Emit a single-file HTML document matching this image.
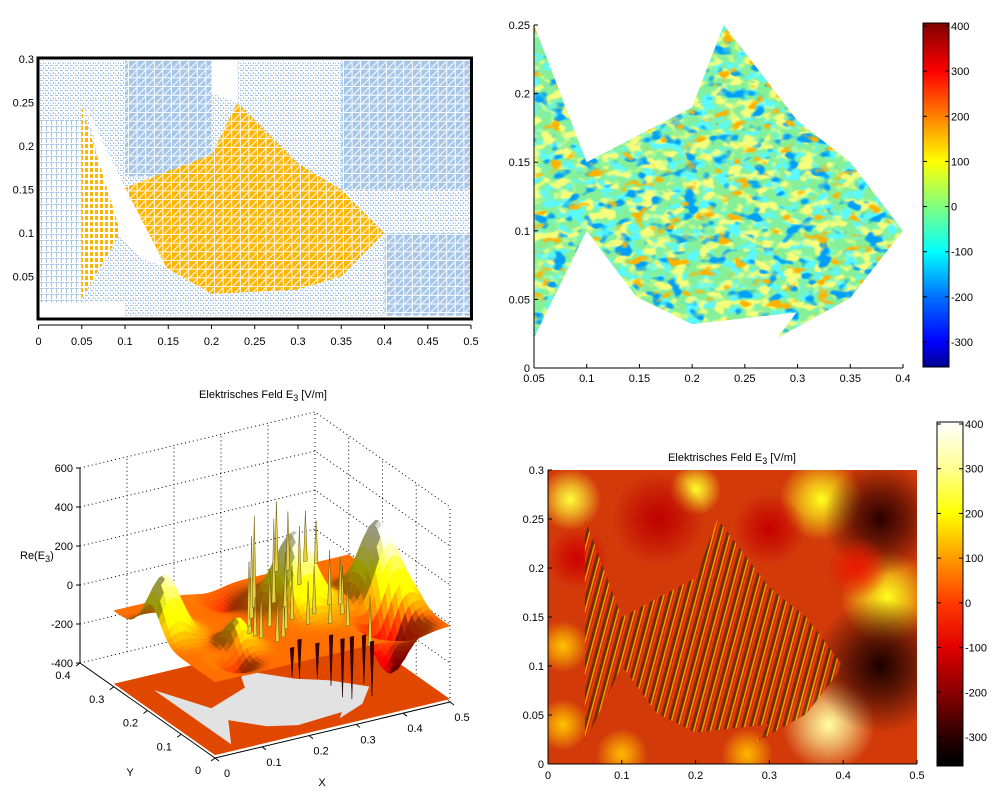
<!DOCTYPE html>
<html><head><meta charset="utf-8"><style>
html,body{margin:0;padding:0;background:#fff;}
svg{display:block;font-family:"Liberation Sans",sans-serif;}
text{font-size:11px;fill:#000;}
</style></head><body>
<svg id="fig" width="1000" height="800" viewBox="0 0 1000 800" xmlns="http://www.w3.org/2000/svg">
<defs>
<pattern id="pDense" width="8.6" height="8.7" patternUnits="userSpaceOnUse">
<rect width="8.6" height="8.7" fill="#a6c6e8"/><path d="M0 8.2H8.6M8.1 0V8.7M1 7.5L7.5 1" stroke="#fff" stroke-width="1"/></pattern>
<pattern id="pSparse" width="5" height="5" patternUnits="userSpaceOnUse">
<rect width="5" height="5" fill="#fff"/><rect x="0" y="0" width="3" height="1" fill="#a6c6e8"/><rect x="3" y="2" width="1" height="2" fill="#a6c6e8"/><rect x="0" y="3" width="1" height="1" fill="#a6c6e8"/></pattern>
<pattern id="pMed" width="5" height="6" patternUnits="userSpaceOnUse">
<rect width="5" height="6" fill="#fff"/><rect x="0" y="0" width="4" height="1" fill="#a6c6e8"/><rect x="1" y="1" width="1" height="4" fill="#a6c6e8"/></pattern>
<pattern id="pOrange" width="8.6" height="8.7" patternUnits="userSpaceOnUse">
<rect width="8.6" height="8.7" fill="#ffb400"/><path d="M0 8.2H8.6M8.1 0V8.7M1 7.5L7.5 1" stroke="#fff" stroke-width="1"/></pattern>
<pattern id="pOrangeS" width="5" height="6" patternUnits="userSpaceOnUse">
<rect width="5" height="6" fill="#fff"/><rect x="0" y="0" width="3" height="4" fill="#ffb400"/></pattern>
<pattern id="pStripes" width="8" height="8" patternUnits="userSpaceOnUse" patternTransform="rotate(15)">
<rect width="8" height="8" fill="#c82800"/><rect x="0" width="2.5" height="8" fill="#4a3000"/><rect x="2.5" width="1.5" height="8" fill="#ffb000"/><rect x="5.5" width="1" height="8" fill="#ff5000"/></pattern>
<filter id="fBlue" x="0" y="0" width="1" height="1"><feTurbulence type="fractalNoise" baseFrequency="0.06 0.09" numOctaves="2" seed="4"/><feColorMatrix type="matrix" values="0 0 0 0 0  0 0 0 0 0.35  0 0 0 0 0.95  7 0 0 0 -4.0"/></filter>
<filter id="fRed" x="0" y="0" width="1" height="1"><feTurbulence type="fractalNoise" baseFrequency="0.06 0.09" numOctaves="2" seed="9"/><feColorMatrix type="matrix" values="0 0 0 0 1  0 0 0 0 0.45  0 0 0 0 0  0 7 0 0 -4.3"/></filter>
<filter id="fYel" x="0" y="0" width="1" height="1"><feTurbulence type="fractalNoise" baseFrequency="0.07 0.1" numOctaves="2" seed="2"/><feColorMatrix type="matrix" values="0 0 0 0 0.9  0 0 0 0 1  0 0 0 0 0.2  0 0 6 0 -2.9"/></filter>
<filter id="fCyan" x="0" y="0" width="1" height="1"><feTurbulence type="fractalNoise" baseFrequency="0.07 0.1" numOctaves="2" seed="6"/><feColorMatrix type="matrix" values="0 0 0 0 0.1  0 0 0 0 0.95  0 0 0 0 1  6 0 0 0 -2.9"/></filter>
</defs>
</svg>
<script>
// ---------- data ----------
const fishX = [0.05,0.1,0.2,0.23,0.3,0.35,0.4,0.35,0.281,0.299,0.2,0.147,0.1,0.05];
const fishY = [0.25,0.15,0.19,0.25,0.18,0.15,0.1,0.051,0.022,0.0405,0.032,0.052,0.1,0.022];
const bodyX = [0.1,0.2,0.23,0.3,0.35,0.4,0.35,0.3,0.2,0.148];
const bodyY = [0.152,0.19,0.25,0.18,0.15,0.1,0.05,0.035,0.03,0.06];
const tailX = [0.05,0.095,0.05];
const tailY = [0.245,0.1,0.025];
const meshTicksX = [0,0.05,0.1,0.15,0.2,0.25,0.3,0.35,0.4,0.45,0.5];
const meshTicksY = [0.05,0.1,0.15,0.2,0.25,0.3];
const fishTicksX = [0.05,0.1,0.15,0.2,0.25,0.3,0.35,0.4];
const fishTicksY = [0,0.05,0.1,0.15,0.2,0.25];
const cbTicks = [400,300,200,100,0,-100,-200,-300];
const jetVals = [407,300,200,100,0,-100,-200,-300,-356];
const jetCols = ['#800000','#ff0000','#ff8000','#ffff00','#80ff80','#00ffff','#0070ff','#0000ff','#000090'];
const hotVals = [407,300,200,100,0,-100,-200,-300,-356];
const hotCols = ['#ffffff','#ffff90','#ffff00','#ff9a00','#ff3a00','#e00000','#8a0000','#2a0000','#000000'];
const mapTicksX = [0,0.1,0.2,0.3,0.4,0.5];
const mapTicksY = [0,0.05,0.1,0.15,0.2,0.25,0.3];
const blobX = [0.03,0.2,0.37,0.46,0.38,0.02,0.02,0.45,0.45,0.15,0.3,0.04,0.1,0.27,0.42];
const blobY = [0.27,0.28,0.27,0.17,0.04,0.12,0.04,0.25,0.1,0.25,0.24,0.21,0.01,0.01,0.2];
const blobV = [240,230,220,220,320,140,140,-300,-320,-140,-130,-120,130,130,-60];
const blobR = [0.03,0.025,0.04,0.045,0.045,0.025,0.025,0.055,0.065,0.045,0.035,0.03,0.025,0.025,0.03];
const zTicks = [600,400,200,0,-200,-400];
const xTicks3 = [0,0.1,0.2,0.3,0.4,0.5];
const yTicks3 = [0,0.1,0.2,0.3,0.4];
const bumpX = [0.03,0.3,0.45,0.45,0.42,0.12,0.08,0.2];
const bumpY = [0.19,0.18,0.16,0.115,0.067,0.1,0.05,0.26];
const bumpA = [300,380,250,280,-320,140,-80,-60];
const bumpS = [0.028,0.035,0.028,0.033,0.03,0.02,0.02,0.03];
const spikeX = [0.16,0.18,0.2,0.21,0.22,0.24,0.25,0.26,0.27,0.28,0.3,0.31,0.33,0.34,0.35,0.36,0.38,0.19,0.23,0.29,0.32,0.37,0.25,0.2,0.3,0.15,0.17,0.23,0.27,0.33,0.36,0.21,0.25,0.29];
const spikeY = [0.12,0.15,0.17,0.13,0.19,0.16,0.12,0.18,0.1,0.14,0.15,0.09,0.12,0.08,0.11,0.06,0.07,0.08,0.07,0.06,0.04,0.05,0.045,0.05,0.04,0.09,0.1,0.11,0.16,0.16,0.13,0.09,0.14,0.11];
const spikeH = [250,330,420,300,470,430,280,360,220,300,260,200,280,220,250,-250,260,220,-200,-260,-320,-280,-180,-150,-300,200,240,260,300,220,240,230,280,250];

// ---------- helpers ----------
const NS='http://www.w3.org/2000/svg';
const svg=document.getElementById('fig');
function mk(tag,attrs,parent){const e=document.createElementNS(NS,tag);for(const k in attrs)e.setAttribute(k,attrs[k]);(parent||svg).appendChild(e);return e;}
function txt(s,x,y,anchor,parent){const t=mk('text',{x:x,y:y,'text-anchor':anchor||'middle'},parent);t.textContent=s;return t;}
function group(name){const g=mk('g',{});return g;}
function poly(xs,ys,fx,fy){return xs.map((v,i)=>fx(v).toFixed(1)+','+fy(ys[i]).toFixed(1)).join(' ');}
function lerpCol(vals,cols,v){
  if(v>=vals[0])return hex(cols[0]); if(v<=vals[vals.length-1])return hex(cols[cols.length-1]);
  for(let i=0;i<vals.length-1;i++){if(v<=vals[i]&&v>=vals[i+1]){const t=(vals[i]-v)/(vals[i]-vals[i+1]);
    const a=hex(cols[i]),b=hex(cols[i+1]);return [0,1,2].map(k=>a[k]+(b[k]-a[k])*t);}}
}
function hex(c){return [parseInt(c.substr(1,2),16),parseInt(c.substr(3,2),16),parseInt(c.substr(5,2),16)];}
function rgb(a){return 'rgb('+a.map(v=>Math.max(0,Math.min(255,Math.round(v)))).join(',')+')';}

// ---------- panel A: mesh ----------
const ax=v=>38.5+v/0.5*432.5, ay=v=>320-v/0.3*261;
const gA=group('mesh-plot');
mk('rect',{x:ax(0),y:ay(0.298),width:ax(0.5)-ax(0),height:ay(0.005)-ay(0.298),fill:'url(#pSparse)'},gA);
mk('rect',{x:ax(0),y:ay(0.23),width:ax(0.05)-ax(0),height:ay(0.02)-ay(0.23),fill:'url(#pMed)'},gA);
mk('rect',{x:ax(0.1),y:ay(0.298),width:ax(0.2)-ax(0.1),height:ay(0.165)-ay(0.298),fill:'url(#pDense)'},gA);
mk('rect',{x:ax(0.35),y:ay(0.298),width:ax(0.5)-ax(0.35),height:ay(0.15)-ay(0.298),fill:'url(#pDense)'},gA);
mk('rect',{x:ax(0.4),y:ay(0.1),width:ax(0.5)-ax(0.4),height:ay(0.005)-ay(0.1),fill:'url(#pDense)'},gA);
mk('polygon',{points:poly([0.2,0.23,0.23,0.2],[0.298,0.298,0.25,0.26],ax,ay),fill:'#fff'},gA);
mk('polygon',{points:poly([0.055,0.1,0.15,0.12,0.09],[0.245,0.152,0.06,0.07,0.1],ax,ay),fill:'#fff'},gA);
mk('rect',{x:ax(0),y:ay(0.02),width:ax(0.1)-ax(0),height:ay(0.005)-ay(0.02),fill:'#fff'},gA);
const bodyA=mk('polygon',{points:poly(bodyX,bodyY,ax,ay),fill:'url(#pOrange)'},gA);


const tailA=mk('polygon',{points:poly(tailX,tailY,ax,ay),fill:'url(#pOrangeS)'},gA);


mk('rect',{x:ax(0)-0.5,y:58,width:ax(0.5)-ax(0)+1,height:261,fill:'none',stroke:'#000','stroke-width':3},gA);
const gAx=group('mesh-axes');
mk('line',{x1:ax(0),y1:325,x2:ax(0.5),y2:325,stroke:'#000'},gAx);
meshTicksX.forEach(v=>{mk('line',{x1:ax(v),y1:325,x2:ax(v),y2:329,stroke:'#000'},gAx);txt(String(v),ax(v),345,'middle',gAx);});
meshTicksY.forEach(v=>{txt(String(v),34,ay(v)+4,'end',gAx);});

// ---------- panel B: jet fish ----------
const bx=v=>534+(v-0.05)/0.35*369, by=v=>368-v/0.25*343;
const gB=group('fish-field-plot');
const cp=mk('clipPath',{id:'fishClipB'});
mk('polygon',{points:poly(fishX,fishY,bx,by)},cp);
const fishB=mk('polygon',{points:poly(fishX,fishY,bx,by),fill:'#86f098'},gB);


['fCyan','fYel','fBlue','fRed'].forEach(f=>{mk('rect',{x:534,y:25,width:370,height:345,filter:'url(#'+f+')','clip-path':'url(#fishClipB)'},gB);});
const gBx=group('fish-axes');
mk('line',{x1:534,y1:368,x2:903,y2:368,stroke:'#000'},gBx);
mk('line',{x1:534,y1:368,x2:534,y2:25,stroke:'#000'},gBx);
fishTicksX.forEach(v=>{mk('line',{x1:bx(v),y1:368,x2:bx(v),y2:364,stroke:'#000'},gBx);txt(String(v),bx(v),382,'middle',gBx);});
fishTicksY.forEach(v=>{mk('line',{x1:534,y1:by(v),x2:538,y2:by(v),stroke:'#000'},gBx);txt(String(v),530,by(v)+4,'end',gBx);});
const cy1=v=>26+(400-v)/700*316;
const lg1=mk('linearGradient',{id:'jetGrad',x1:0,y1:0,x2:0,y2:1},svg.querySelector('defs'));
jetVals.forEach((v,i)=>mk('stop',{offset:((cy1(v)-23)/344).toFixed(3),'stop-color':jetCols[i]},lg1));
const gCB1=group('colorbar-jet');
mk('rect',{x:923,y:23,width:26,height:344,fill:'url(#jetGrad)',stroke:'#000'},gCB1);
cbTicks.forEach(v=>{mk('line',{x1:923,y1:cy1(v),x2:927,y2:cy1(v),stroke:'#000'},gCB1);mk('line',{x1:945,y1:cy1(v),x2:949,y2:cy1(v),stroke:'#000'},gCB1);txt(String(v),951,cy1(v)+4,'start',gCB1);});

// ---------- panel D: hot heatmap ----------
const dx=v=>548+v/0.5*369, dy=v=>764-v/0.3*294;
const gD=group('heatmap-plot');
const cpD=mk('clipPath',{id:'mapClip'});
mk('rect',{x:dx(0),y:dy(0.3),width:dx(0.5)-dx(0),height:dy(0)-dy(0.3)},cpD);
const gDin=mk('g',{'clip-path':'url(#mapClip)'},gD);
mk('rect',{x:dx(0),y:dy(0.3),width:dx(0.5)-dx(0),height:dy(0)-dy(0.3),fill:'#d23a0a'},gDin);
const defs=svg.querySelector('defs');
blobX.forEach((bxv,i)=>{
  const id='blob'+i;const rg=mk('radialGradient',{id:id},defs);
  const c=rgb(lerpCol(hotVals,hotCols,blobV[i]));
  mk('stop',{offset:0,'stop-color':c,'stop-opacity':1},rg);
  mk('stop',{offset:0.45,'stop-color':c,'stop-opacity':0.6},rg);
  mk('stop',{offset:1,'stop-color':c,'stop-opacity':0},rg);
  const r=blobR[i]/0.5*369*1.4;
  const b=mk('circle',{cx:dx(bxv),cy:dy(blobY[i]),r:r,fill:'url(#'+id+')'},gDin);
  
  
});
const fishD=mk('polygon',{points:poly(fishX,fishY,dx,dy),fill:'url(#pStripes)',opacity:0.8},gDin);


const gDx=group('heatmap-axes');
mk('line',{x1:dx(0),y1:764,x2:dx(0.5),y2:764,stroke:'#000'},gDx);
mk('line',{x1:dx(0),y1:764,x2:dx(0),y2:dy(0.3),stroke:'#000'},gDx);
mapTicksX.forEach(v=>{mk('line',{x1:dx(v),y1:764,x2:dx(v),y2:760,stroke:'#000'},gDx);txt(String(v),dx(v),779,'middle',gDx);});
mapTicksY.forEach(v=>{mk('line',{x1:dx(0),y1:dy(v),x2:dx(0)+4,y2:dy(v),stroke:'#000'},gDx);txt(String(v),544,dy(v)+4,'end',gDx);});
const tD=txt('',732,461,'middle',gDx);tD.innerHTML='Elektrisches Feld E<tspan dy="3" font-size="9">3</tspan><tspan dy="-3"> [V/m]</tspan>';


const cy2=v=>424+(400-v)/700*313;
const lg2=mk('linearGradient',{id:'hotGrad',x1:0,y1:0,x2:0,y2:1},defs);
hotVals.forEach((v,i)=>mk('stop',{offset:((cy2(v)-422)/344).toFixed(3),'stop-color':hotCols[i]},lg2));
const gCB2=group('colorbar-hot');
mk('rect',{x:937,y:422,width:26,height:344,fill:'url(#hotGrad)',stroke:'#000'},gCB2);
cbTicks.forEach(v=>{mk('line',{x1:937,y1:cy2(v),x2:941,y2:cy2(v),stroke:'#000'},gCB2);mk('line',{x1:959,y1:cy2(v),x2:963,y2:cy2(v),stroke:'#000'},gCB2);txt(String(v),965,cy2(v)+4,'start',gCB2);});

// ---------- panel C: 3D surface ----------
function P(x,y,z){return [215+470*x-337.5*y, 758-112*x-237.5*y-0.195*(z+400)];}
function pts(a){return a.map(p=>p[0].toFixed(1)+','+p[1].toFixed(1)).join(' ');}
function H(x,y){let s=0;for(let i=0;i<bumpX.length;i++){const d=(x-bumpX[i])**2+(y-bumpY[i])**2;s+=bumpA[i]*Math.exp(-d/(2*bumpS[i]*bumpS[i]));}return s-10;}
const gC=group('surface-3d-plot');
const gGrid=mk('g',{stroke:'#000','stroke-width':1,'stroke-dasharray':'1,3',fill:'none'},gC);
zTicks.forEach(z=>{const a=P(0,0.4,z),b=P(0.5,0.4,z),c=P(0.5,0,z);mk('polyline',{points:pts([a,b,c])},gGrid);});
xTicks3.forEach(x=>{const a=P(x,0.4,-400),b=P(x,0.4,600);mk('line',{x1:a[0],y1:a[1],x2:b[0],y2:b[1]},gGrid);});
yTicks3.forEach(y=>{const a=P(0.5,y,-400),b=P(0.5,y,600);mk('line',{x1:a[0],y1:a[1],x2:b[0],y2:b[1]},gGrid);});
const gFloor=group('floor-projection');
mk('polygon',{points:pts([P(0,0,-385),P(0.5,0,-385),P(0.5,0.3,-385),P(0,0.3,-385)]),fill:'#e04800'},gFloor);
const ffish=mk('polygon',{points:pts(fishX.map((x,i)=>P(x,fishY[i],-385))),fill:'#e2e2e2'},gFloor);


const gS=group('surface');
const NX=60,NY=36,quads=[];
for(let i=0;i<NX;i++)for(let j=0;j<NY;j++){
  const x0=i*0.5/NX,x1=(i+1)*0.5/NX,y0=j*0.3/NY,y1=(j+1)*0.3/NY;
  const z00=H(x0,y0),z10=H(x1,y0),z11=H(x1,y1),z01=H(x0,y1);
  const zc=(z00+z10+z11+z01)/4;
  const gx=((z10+z11)-(z00+z01))/2/(x1-x0),gy=((z01+z11)-(z00+z10))/2/(y1-y0);
  let shade=1.05+(-gx*0.00025+gy*0.0002);shade=Math.max(0.6,Math.min(1.3,shade));
  const base=lerpCol(hotVals,hotCols,zc*0.9+60);
  quads.push({d:112*x0+237.5*y0,p:[P(x0,y0,z00),P(x1,y0,z10),P(x1,y1,z11),P(x0,y1,z01)],c:base.map(v=>v*shade)});
}
quads.sort((a,b)=>b.d-a.d);
quads.forEach(q=>{mk('polygon',{points:pts(q.p),fill:rgb(q.c),stroke:rgb(q.c),'stroke-width':0.5},gS);});
const gSp=group('surface-spikes');
spikeX.forEach((x,i)=>{
  const base=H(x,spikeY[i]);const top=P(x,spikeY[i],base+spikeH[i]);
  const l=P(x-0.004,spikeY[i],base),r=P(x+0.004,spikeY[i],base);
  const col=spikeH[i]>0?'#e8d040':'#400000';
  const s=mk('polygon',{points:pts([l,top,r]),fill:col,stroke:spikeH[i]>0?'#6a5a10':'#200000','stroke-width':0.5},gSp);
  
  
});
const gCax=group('axes-3d');
let a=P(0,0.4,-400),b=P(0,0.4,600);
mk('line',{x1:a[0],y1:a[1],x2:b[0],y2:b[1],stroke:'#000'},gCax);
a=P(0,0,-400);b=P(0.5,0,-400);mk('line',{x1:a[0],y1:a[1],x2:b[0],y2:b[1],stroke:'#000'},gCax);
b=P(0,0.4,-400);mk('line',{x1:a[0],y1:a[1],x2:b[0],y2:b[1],stroke:'#000'},gCax);
zTicks.forEach(z=>{const p=P(0,0.4,z);mk('line',{x1:p[0]-4,y1:p[1],x2:p[0],y2:p[1],stroke:'#000'},gCax);txt(String(z),p[0]-7,p[1]+4,'end',gCax);});
xTicks3.forEach(x=>{const p=P(x,0,-400);mk('line',{x1:p[0],y1:p[1],x2:p[0]+4,y2:p[1]+3,stroke:'#000'},gCax);txt(String(x),p[0]+12,p[1]+19,'middle',gCax);});
yTicks3.forEach(y=>{const p=P(0,y,-400);mk('line',{x1:p[0],y1:p[1],x2:p[0]-4,y2:p[1]+3,stroke:'#000'},gCax);txt(String(y),p[0]-17,p[1]+16,'middle',gCax);});
const xl=txt('X',322,786,'middle',gCax);
const yl=txt('Y',130,776,'middle',gCax);
const zl=txt('',20,559,'start',gCax);zl.innerHTML='Re(E<tspan dy="3" font-size="9">3</tspan><tspan dy="-3">)</tspan>';


const tC=txt('',263,398,'middle',gCax);tC.innerHTML='Elektrisches Feld E<tspan dy="3" font-size="9">3</tspan><tspan dy="-3"> [V/m]</tspan>';


</script>
</body></html>
